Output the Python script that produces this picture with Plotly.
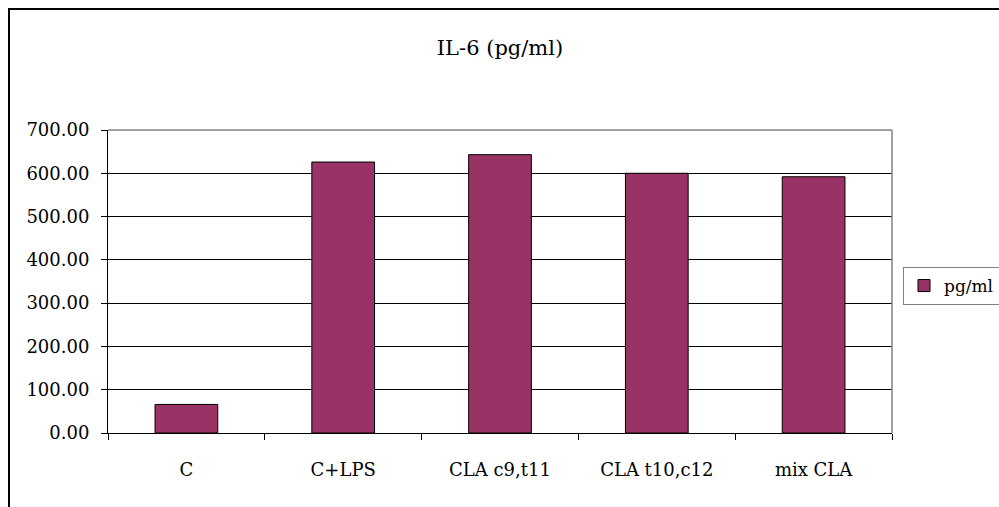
import plotly.graph_objects as go

# IL-6 concentration per treatment group
categories = ["C", "C+LPS", "CLA c9,t11", "CLA t10,c12", "mix CLA"]
il6_values = [66, 626, 643, 600, 592]
series_name = "pg/ml"
chart_title = "IL-6 (pg/ml)"

W, H = 999, 507
# plot area in pixels
L, R, T, B = 108, 892, 130, 433

FAMILY = "DejaVu Serif, Liberation Serif, serif"
FONT = dict(family=FAMILY, size=18, color="black")


def px_to_paper_x(px):
    return (px - L) / (R - L)


def px_to_paper_y(py):
    return (B - py) / (B - T)


fig = go.Figure()
fig.add_trace(go.Bar(
    x=categories,
    y=il6_values,
    name=series_name,
    marker=dict(color="#993366", line=dict(color="black", width=1)),
    width=0.4,
    showlegend=True,
))

fig.update_layout(
    width=W,
    height=H,
    margin=dict(l=L, r=W - R, t=T, b=H - B, pad=0, autoexpand=False),
    paper_bgcolor="white",
    plot_bgcolor="white",
    font=FONT,
    title=dict(
        text=chart_title,
        x=0.5,
        xref="paper",
        xanchor="center",
        y=1 - 48 / H,
        yref="container",
        yanchor="middle",
        font=dict(family=FAMILY, size=21, color="black"),
    ),
    showlegend=True,
    legend=dict(
        x=px_to_paper_x(903),
        y=px_to_paper_y(286),
        xanchor="left",
        yanchor="middle",
        bordercolor="#808080",
        borderwidth=1,
        bgcolor="white",
        font=dict(family=FAMILY, size=17, color="black"),
        itemwidth=30,
        tracegroupgap=0,
    ),
    bargap=0.6,
)

fig.update_xaxes(
    showline=True,
    linecolor="black",
    linewidth=1,
    ticks="outside",
    tickson="boundaries",
    ticklen=6,
    tickcolor="black",
    tickwidth=1,
    showgrid=False,
    ticklabelstandoff=20,
    tickfont=FONT,
)

fig.update_yaxes(
    range=[0, 700],
    dtick=100,
    tickformat=".2f",
    showline=True,
    linecolor="black",
    linewidth=1,
    ticks="outside",
    ticklen=6,
    tickcolor="black",
    tickwidth=1,
    showgrid=True,
    gridcolor="black",
    gridwidth=1,
    zeroline=False,
    ticklabelstandoff=8,
    tickfont=FONT,
)

# gray frame on the top and right of the plot area
fig.add_shape(type="line", xref="paper", yref="paper", x0=0, x1=1, y0=1, y1=1,
              line=dict(color="#808080", width=1.5), layer="above")
fig.add_shape(type="line", xref="paper", yref="paper", x0=1, x1=1, y0=0, y1=1,
              line=dict(color="#808080", width=1.5), layer="above")

# outer chart border (runs off the right and bottom edges)
fig.add_shape(type="rect", xref="paper", yref="paper",
              x0=px_to_paper_x(9), x1=px_to_paper_x(W + 20),
              y0=px_to_paper_y(H + 20), y1=px_to_paper_y(9),
              line=dict(color="black", width=2), fillcolor="rgba(0,0,0,0)",
              layer="above")

fig.write_html("out.html")
